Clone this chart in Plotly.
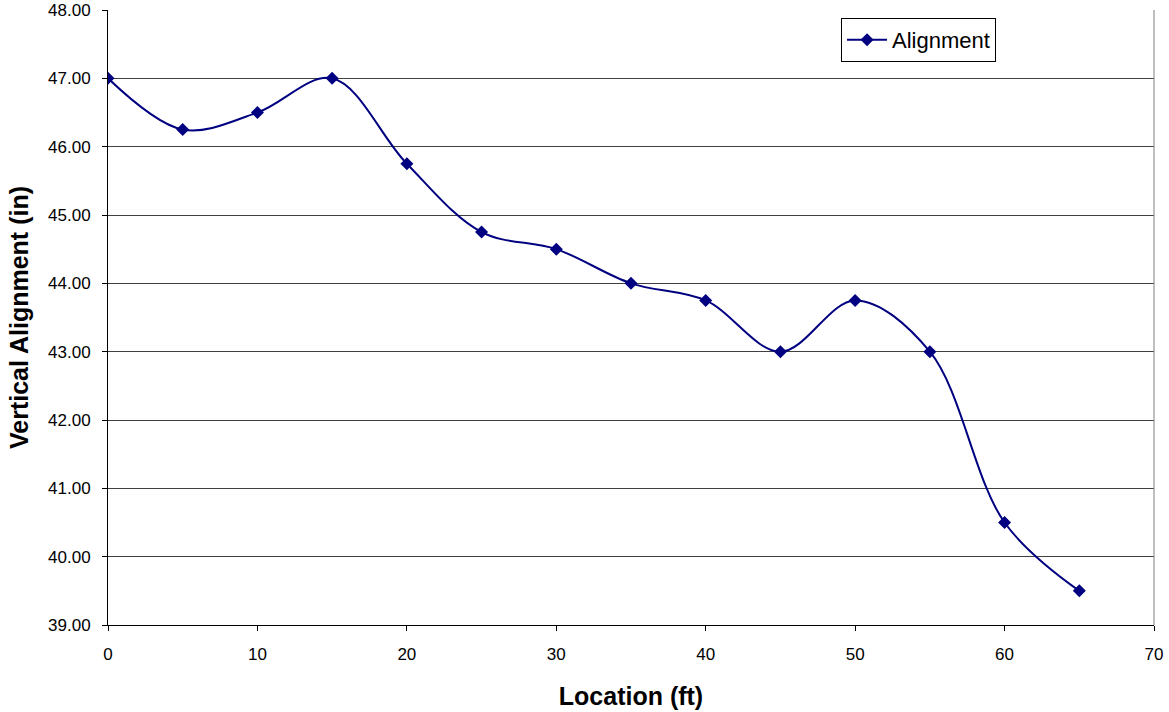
import plotly.graph_objects as go

location_ft = [0, 5, 10, 15, 20, 25, 30, 35, 40, 45, 50, 55, 60, 65]
alignment_in = [47.0, 46.25, 46.5, 47.0, 45.75, 44.75, 44.5, 44.0, 43.75, 43.0, 43.75, 43.0, 40.5, 39.5]
series_name = "Alignment"

FONT = "Liberation Sans, Arial, sans-serif"
NAVY = "#000080"

fig = go.Figure()
fig.add_trace(go.Scatter(
    x=location_ft, y=alignment_in, name=series_name,
    mode="lines+markers", showlegend=True,
    line=dict(color=NAVY, width=2, shape="spline", smoothing=1),
    marker=dict(symbol="diamond", size=10, color=NAVY),
))

fig.update_layout(
    width=1169, height=712,
    margin=dict(l=108, r=15, t=10, b=87),
    paper_bgcolor="white", plot_bgcolor="white",
    font=dict(family=FONT, size=17, color="black"),
    showlegend=True,
    legend=dict(
        x=0.7008, y=0.987, xanchor="left", yanchor="top",
        bordercolor="black", borderwidth=1, bgcolor="white",
        itemwidth=40, itemsizing="trace",
        font=dict(family=FONT, size=22, color="black"),
    ),
    xaxis=dict(
        range=[0, 70], dtick=10, tick0=0, automargin=False,
        showgrid=False, zeroline=False,
        showline=True, linecolor="black", linewidth=1,
        ticks="outside", ticklen=5, tickcolor="black",
        ticklabelstandoff=9,
        title=dict(text="<b>Location (ft)</b>", font=dict(family=FONT, size=25), standoff=24),
    ),
    yaxis=dict(
        range=[39, 48], dtick=1, tick0=39, tickformat=".2f", automargin=False,
        showgrid=True, gridcolor="#404040", gridwidth=1,
        zeroline=False,
        showline=True, linecolor="black", linewidth=1,
        ticks="outside", ticklen=5, tickcolor="black",
        ticklabelstandoff=8,
        title=dict(text="<b>Vertical Alignment (in)</b>", font=dict(family=FONT, size=25), standoff=12),
    ),
)

fig.add_shape(type="line", xref="paper", yref="paper", x0=1, x1=1, y0=0, y1=1,
              line=dict(color="#808080", width=1))

fig.write_html("out.html")
